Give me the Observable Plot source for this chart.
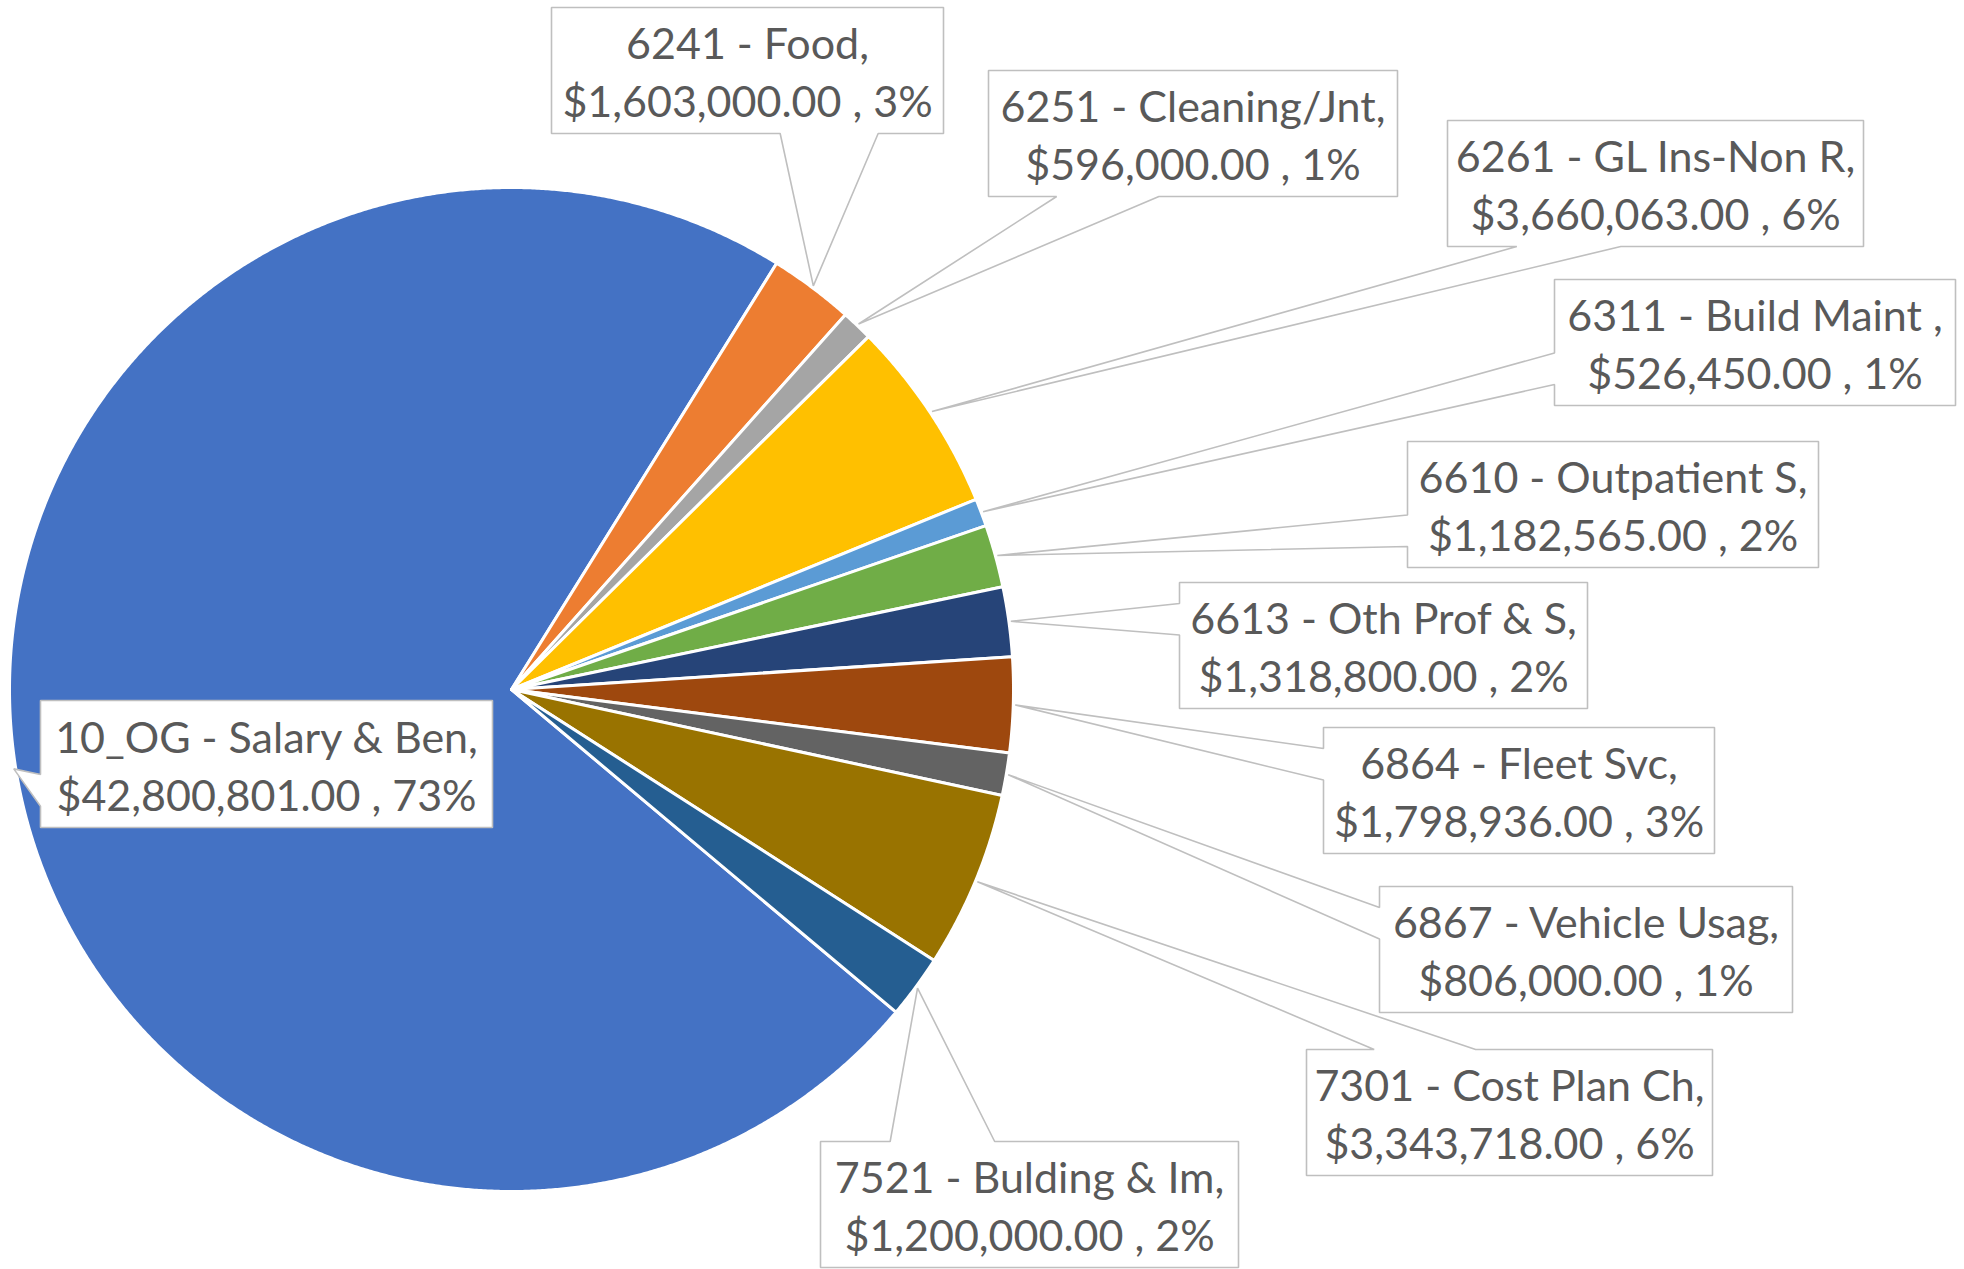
<!DOCTYPE html>
<html>
<head>
<meta charset="utf-8">
<script src="https://cdn.jsdelivr.net/npm/d3@7"></script>
<script src="https://cdn.jsdelivr.net/npm/@observablehq/plot@0.6"></script>
<style>
  html, body { margin: 0; padding: 0; background: #ffffff; }
  #chart svg { display: block; }
</style>
</head>
<body>
<div id="chart"></div>
<script>
// ---------- data ----------
const categories = [
  "10_OG - Salary & Ben",
  "6241 - Food",
  "6251 - Cleaning/Jnt",
  "6261 - GL Ins-Non R",
  "6311 - Build Maint ",
  "6610 - Outpatient S",
  "6613 - Oth Prof & S",
  "6864 - Fleet Svc",
  "6867 - Vehicle Usag",
  "7301 - Cost Plan Ch",
  "7521 - Bulding & Im"
];
const amounts = [42800801, 1603000, 596000, 3660063, 526450, 1182565, 1318800, 1798936, 806000, 3343718, 1200000];
const colors = ["#4472C4", "#ED7D31", "#A5A5A5", "#FFC000", "#5B9BD5", "#70AD47", "#264478", "#9E480E", "#636363", "#997300", "#255E91"];

// ---------- layout (not data) ----------
const W = 1964, H = 1269;
const pieCx = 511, pieCy = 689, pieR = 502, tipR = 504, startDeg = 130;
// callout boxes [left, top, width, height], same order as categories
const boxes = [
  [40, 700, 452, 127],
  [551, 7, 392, 126],
  [988, 70, 409, 126],
  [1447, 120, 416, 126],
  [1554, 279, 401, 126],
  [1407, 441, 411, 126],
  [1179, 582, 408, 126],
  [1323, 727, 391, 126],
  [1379, 886, 413, 126],
  [1306, 1049, 406, 126],
  [820, 1141, 418, 126]
];

// ---------- derived geometry ----------
const total = d3.sum(amounts);
const rad = Math.PI / 180;
const arcs = d3.pie().sort(null).value(d => d)
  .startAngle(startDeg * rad).endAngle((startDeg + 360) * rad)(amounts);

const px = (a, r) => pieCx + r * Math.sin(a);
const py = (a, r) => pieCy - r * Math.cos(a);

const slicePts = [];
arcs.forEach((a, i) => {
  const cat = categories[i];
  slicePts.push({category: cat, x: pieCx, y: pieCy});
  const n = Math.max(2, Math.ceil((a.endAngle - a.startAngle) / (0.25 * rad)));
  for (let k = 0; k <= n; k++) {
    const t = a.startAngle + (a.endAngle - a.startAngle) * k / n;
    slicePts.push({category: cat, x: px(t, pieR), y: py(t, pieR)});
  }
});

const calloutPts = [];
const labels = [];
const fmtMoney = d3.format("$,.2f");
const fmtPct = d3.format(".0%");
arcs.forEach((a, i) => {
  const [l, t, w, h] = boxes[i];
  const r = l + w, b = t + h, hc = l + w / 2, vc = t + h / 2;
  const mid = (a.startAngle + a.endAngle) / 2;
  const tx = px(mid, tipR), ty = py(mid, tipR);
  const dxPos = tx - hc, dyPos = ty - vc;
  const dq = Math.abs(dxPos * h) - Math.abs(dyPos * w);
  const bx1 = l + w * (dxPos > 0 ? 7 : 2) / 12, bx2 = l + w * (dxPos > 0 ? 10 : 5) / 12;
  const by1 = t + h * (dyPos > 0 ? 7 : 2) / 12, by2 = t + h * (dyPos > 0 ? 10 : 5) / 12;
  let pts;
  if (dq > 0) {
    if (dxPos > 0) pts = [[l, t], [r, t], [r, by1], [tx, ty], [r, by2], [r, b], [l, b]];
    else pts = [[l, t], [r, t], [r, b], [l, b], [l, by2], [tx, ty], [l, by1]];
  } else {
    if (dyPos > 0) pts = [[l, t], [r, t], [r, b], [bx2, b], [tx, ty], [bx1, b], [l, b]];
    else pts = [[l, t], [bx1, t], [tx, ty], [bx2, t], [r, t], [r, b], [l, b]];
  }
  pts.forEach(([x, y]) => calloutPts.push({id: i, x, y}));
  labels.push({
    x: hc, y: vc,
    text: `${categories[i]},\n${fmtMoney(amounts[i])} , ${fmtPct(amounts[i] / total)}`
  });
});

// ---------- chart ----------
const chart = Plot.plot({
  width: W,
  height: H,
  margin: 0,
  x: {domain: [0, W], range: [0, W], axis: null},
  y: {domain: [0, H], range: [0, H], axis: null},
  color: {domain: categories, range: colors},
  style: {background: "#ffffff", fontFamily: "Lato", overflow: "visible"},
  marks: [
    Plot.line(slicePts, {
      x: "x", y: "y", z: "category", fill: "category",
      stroke: "#ffffff", strokeWidth: 3, curve: "linear-closed"
    }),
    Plot.line(calloutPts, {
      x: "x", y: "y", z: "id", fill: "#ffffff",
      stroke: "#BFBFBF", strokeWidth: 1.6, curve: "linear-closed",
      strokeLinejoin: "miter", strokeLinecap: "butt"
    }),
    Plot.text(labels, {
      x: "x", y: "y", text: "text",
      fontSize: 43, fontFamily: "Lato", fill: "#595959",
      lineAnchor: "middle", lineHeight: 1.35, textAnchor: "middle", dy: -1
    })
  ]
});
document.getElementById("chart").appendChild(chart);
</script>
</body>
</html>
